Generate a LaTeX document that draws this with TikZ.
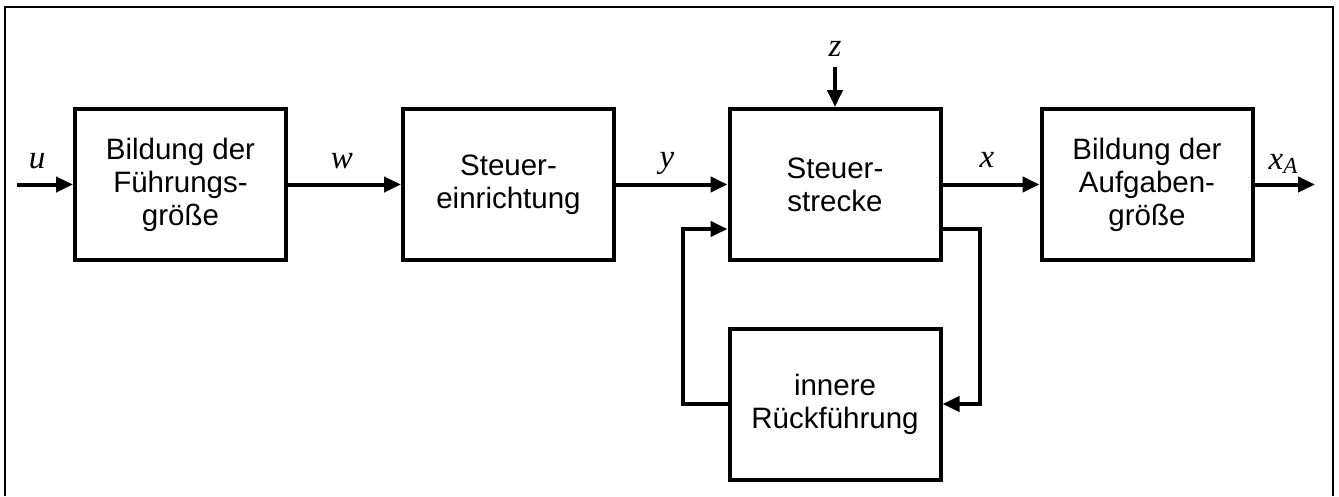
\documentclass[tikz,border=0pt]{standalone}
\usepackage{fontspec}
\setmainfont{Liberation Sans}
\newfontfamily\tms{Liberation Serif}
\usetikzlibrary{arrows.meta}
\begin{document}
\begin{tikzpicture}[x=1pt,y=-1pt,
  block/.style={draw, line width=4pt, minimum width=211pt, minimum height=151pt,
    inner sep=0pt, align=center, font=\fontsize{29.5}{33}\selectfont},
  sig/.style={line width=4pt, -{Triangle[length=17pt,width=15pt]}},
  lbl/.style={anchor=base, inner sep=0pt, font=\fontsize{33}{33}\selectfont\tms\itshape}]
\useasboundingbox (0,0) rectangle (1339,496);
% outer frame
\draw[line width=2.5pt] (5,496) -- (5,7) -- (1333,7) -- (1333,496);

% blocks
\node[block] (fg) at (180.5,184.5) {Bildung der\\Führungs-\\größe};
\node[block] (se) at (508.5,184.5) {Steuer-\\einrichtung};
\node[block] (ss) at (835,184.5) {Steuer-\\strecke};
\node[block] (ag) at (1147,184.5) {Bildung der\\Aufgaben-\\größe};
\node[block] (rf) at (835,404) {innere\\Rückführung};

% free ends
\coordinate (uin) at (17,184.5);
\coordinate (xout) at (1315,184.5);
\coordinate (zin) at (835,67);

% signal path
\draw[sig] (uin) -- (fg.west);
\draw[sig] (fg.east) -- (se.west);
\draw[sig] (se.east) -- (ss.west);
\draw[sig] (ss.east) -- (ag.west);
\draw[sig] (ag.east) -- (xout);
\draw[sig] (zin) -- (ss.north);

% inner feedback loop
\draw[sig] ([yshift=-44.5pt]ss.east) -| (980,404) -- (rf.east);
\draw[sig] (rf.west) -| (683,229) -- ([yshift=-44.5pt]ss.west);

% signal labels
\node[lbl] (lu) at (37,168) {u};
\node[lbl] (lw) at (342,168) {w};
\node[lbl] (ly) at (667,167) {y};
\node[lbl] (lx) at (987,167) {x};
\node[lbl] (lz) at (835,56) {z};
\node[lbl] (lxa) at (1283,169) {x\raisebox{-0.3ex}{\fontsize{23}{23}\selectfont A}};
\end{tikzpicture}
\end{document}
